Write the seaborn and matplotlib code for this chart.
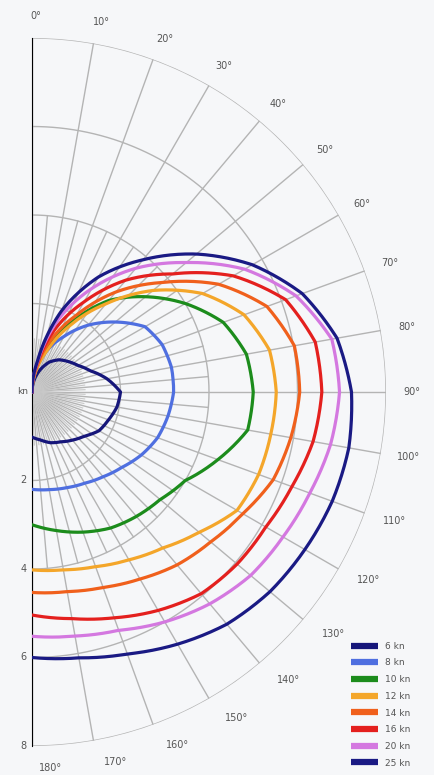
import numpy as np
import pandas as pd
import seaborn as sns
import matplotlib.pyplot as plt
from matplotlib.lines import Line2D

# true wind angle (deg) and boat speed (kn)
angles = [0, 10, 20, 30, 40, 50, 60, 70, 80, 90, 100, 110, 120, 130, 140, 150, 160, 170, 180]
winds = ['6 kn', '8 kn', '10 kn', '12 kn', '14 kn', '16 kn', '20 kn', '25 kn']
tws6 = [0.0, 0.27, 0.53, 0.78, 0.95, 1.07, 1.2, 1.4, 1.72, 2.0, 1.95, 1.84, 1.75, 1.55, 1.42, 1.3, 1.22, 1.1, 1.02]
tws8 = [0.0, 0.5, 1.0, 1.45, 1.97, 2.46, 2.95, 3.13, 3.2, 3.2, 3.12, 3.02, 2.85, 2.65, 2.5, 2.38, 2.3, 2.24, 2.2]
tws10 = [0.0, 0.5, 1.1, 1.85, 2.7, 3.35, 4.0, 4.6, 4.92, 5.0, 4.95, 4.47, 4.0, 3.78, 3.67, 3.55, 3.37, 3.18, 3.0]
tws12 = [0.0, 0.45, 1.0, 1.75, 2.6, 3.57, 4.45, 5.1, 5.45, 5.52, 5.48, 5.45, 5.35, 4.93, 4.6, 4.38, 4.2, 4.08, 4.02]
tws14 = [0.0, 0.55, 1.25, 2.0, 2.95, 3.85, 4.87, 5.65, 6.02, 6.05, 5.94, 5.8, 5.5, 5.27, 5.1, 4.88, 4.7, 4.58, 4.53]
tws16 = [0.0, 0.6, 1.5, 2.35, 3.3, 4.15, 5.25, 6.1, 6.5, 6.55, 6.45, 6.25, 6.1, 6.05, 5.95, 5.7, 5.43, 5.2, 5.04]
tws20 = [0.0, 0.65, 1.75, 2.7, 3.65, 4.55, 5.55, 6.35, 6.88, 6.95, 6.85, 6.68, 6.55, 6.45, 6.25, 6.0, 5.73, 5.6, 5.52]
tws25 = [0.0, 0.7, 1.95, 3.0, 3.9, 4.85, 5.75, 6.5, 7.0, 7.22, 7.27, 7.22, 7.12, 7.02, 6.85, 6.58, 6.3, 6.1, 6.0]
colors = ['#16167a', '#4f6fe0', '#1c8c1c', '#f4a62a', '#f0601c', '#e4201e', '#d478e0', '#1a1a84']

ring_ticks = [2, 4, 6, 8]
angle_ticks = list(range(0, 181, 10))

bg = '#f6f7f9'
grid_c = '#b4b4b4'
text_c = '#555555'

rows = []
for name, speeds in zip(winds, [tws6, tws8, tws10, tws12, tws14, tws16, tws20, tws25]):
    for a, s in zip(angles, speeds):
        rows.append({'wind': name, 'theta': np.deg2rad(a), 'speed': s})
polar = pd.DataFrame(rows)

fig = plt.figure(figsize=(4.34, 7.75), dpi=100, facecolor=bg)
ax = fig.add_axes([-145 / 434, 29 / 775, 708 / 434, 708 / 775], projection='polar')
ax.set_facecolor('none')
ax.set_theta_zero_location('N')
ax.set_theta_direction(-1)
ax.set_thetamin(0)
ax.set_thetamax(180)
ax.grid(False)
for s in ax.spines.values():
    s.set_visible(False)

# grid: rings, 10 deg spokes to the rim, 5 deg spokes inside
half = np.linspace(0, np.pi, 361)
for r in ring_ticks:
    ax.plot(half, np.full_like(half, r), color=grid_c, lw=1.0, zorder=1)
for a in range(0, 181, 5):
    rmax = 8 if a % 10 == 0 else 4
    ax.plot([np.deg2rad(a)] * 2, [0, rmax], color=grid_c, lw=1.0, zorder=1)
for a in np.arange(2.5, 180, 5):
    ax.plot([np.deg2rad(a)] * 2, [0, 1.2], color='#c8c8c8', lw=0.8, zorder=1)

n_before = len(ax.lines)
sns.lineplot(data=polar, x='theta', y='speed', hue='wind', hue_order=winds,
             palette=dict(zip(winds, colors)), sort=False, estimator=None,
             lw=2.3, legend=False, ax=ax, zorder=3)
# let the polar transform draw each segment as a curve instead of a chord
for ln in ax.lines[n_before:]:
    ln.get_path()._interpolation_steps = 30

ax.set_rlim(0, 8)
ax.set_xticks([])
ax.set_yticks([])
ax.set_xlabel('')
ax.set_ylabel('')

for a in angle_ticks:
    ax.annotate(f'{a}°', xy=(np.deg2rad(a), 8.5),
                xytext=(3 + 10 * max(0, -np.cos(np.deg2rad(a))), 0),
                textcoords='offset points', ha='center', va='center',
                fontsize=7, color=text_c, annotation_clip=False)
for r in ring_ticks:
    ax.annotate(str(r), xy=(np.pi, r), xytext=(-4, 0), textcoords='offset points',
                ha='right', va='center', fontsize=7, color=text_c, annotation_clip=False)
ax.annotate('kn', xy=(0, 0), xytext=(-3, 0), textcoords='offset points',
            ha='right', va='center', fontsize=6.5, color=text_c, annotation_clip=False)

handles = [Line2D([], [], color=c, lw=4.5, solid_capstyle='butt') for c in colors]
leg = fig.legend(handles, winds, loc='upper left', bbox_to_anchor=(0.795, 0.18),
                 frameon=False, fontsize=6.5, labelspacing=0.85, handlelength=2.9,
                 handletextpad=0.8, borderpad=0.2)
for t in leg.get_texts():
    t.set_color(text_c)

fig.savefig('out.png', dpi=100, facecolor=bg)
